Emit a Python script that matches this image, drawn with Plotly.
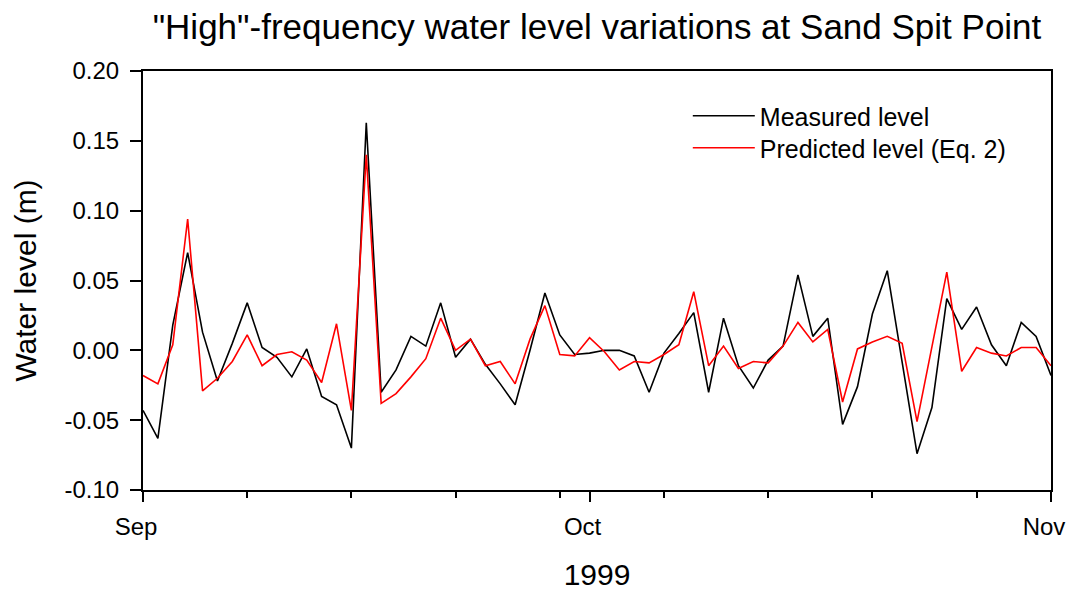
import pandas as pd
import plotly.graph_objects as go

dates = pd.date_range("1999-09-01", "1999-11-01", freq="D")

measured = [
    -0.043, -0.063, 0.018, 0.070, 0.013, -0.022, 0.005, 0.034, 0.002, -0.005,
    -0.019, 0.001, -0.033, -0.039, -0.070, 0.163, -0.030, -0.014, 0.010, 0.003,
    0.034, -0.005, 0.008, -0.010, -0.024, -0.039, 0.000, 0.041, 0.011, -0.003,
    -0.002, 0.000, 0.000, -0.004, -0.030, -0.002, 0.012, 0.027, -0.030, 0.023,
    -0.011, -0.027, -0.007, 0.003, 0.054, 0.010, 0.023, -0.053, -0.026, 0.026,
    0.057, -0.007, -0.074, -0.041, 0.037, 0.015, 0.031, 0.004, -0.011, 0.020,
    0.010, -0.018,
]
predicted = [
    -0.018, -0.024, 0.004, 0.094, -0.029, -0.020, -0.008, 0.011, -0.011, -0.003,
    -0.001, -0.007, -0.023, 0.019, -0.043, 0.140, -0.038, -0.031, -0.019, -0.006,
    0.023, 0.000, 0.008, -0.011, -0.008, -0.024, 0.008, 0.032, -0.003, -0.004,
    0.009, -0.001, -0.014, -0.008, -0.009, -0.003, 0.004, 0.042, -0.011, 0.003,
    -0.013, -0.008, -0.009, 0.003, 0.020, 0.006, 0.015, -0.037, 0.001, 0.006,
    0.010, 0.005, -0.051, 0.002, 0.056, -0.015, 0.002, -0.002, -0.004, 0.002,
    0.002, -0.011,
]

y_ticks = [-0.10, -0.05, 0.00, 0.05, 0.10, 0.15, 0.20]
y_labels = ["-0.10", "-0.05", "0.00", "0.05", "0.10", "0.15", "0.20"]
x_ticks = ["1999-09-01", "1999-10-01", "1999-11-01"]
x_labels = ["Sep", "Oct", "Nov"]

FONT = "Liberation Sans, Arial, sans-serif"

fig = go.Figure()
fig.add_trace(go.Scatter(x=dates, y=measured, mode="lines", name="Measured level",
                         line=dict(color="black", width=1.6), legend="legend"))
fig.add_trace(go.Scatter(x=dates, y=predicted, mode="lines", name="Predicted level (Eq. 2)",
                         line=dict(color="red", width=1.6), legend="legend2"))

legend_style = dict(xanchor="left", yanchor="top", bgcolor="rgba(0,0,0,0)",
                    font=dict(size=25, family=FONT), itemwidth=62)

fig.update_layout(
    width=1068, height=591, autosize=False,
    margin=dict(l=143, r=17, t=71, b=101, autoexpand=False),
    paper_bgcolor="white", plot_bgcolor="white",
    font=dict(family=FONT, color="black"),
    title=dict(text='"High"-frequency water level variations at Sand Spit Point',
               x=0.5, xref="paper", xanchor="center",
               y=1 - 27 / 591, yref="container", yanchor="middle",
               font=dict(size=35, family=FONT, color="black")),
    showlegend=True,
    legend=dict(x=0.60, y=0.9474, **legend_style),
    legend2=dict(x=0.60, y=0.8711, **legend_style),
)

fig.update_xaxes(
    range=["1999-09-01", "1999-11-01"], automargin=False,
    tickmode="array", tickvals=x_ticks, ticktext=x_labels,
    ticks="outside", ticklen=10, tickwidth=1.5, tickcolor="black",
    tickfont=dict(size=24, family=FONT),
    ticklabelstandoff=4, ticklabelshift=-7,
    minor=dict(ticks="outside", ticklen=6, tickwidth=1.5, tickcolor="black",
               tick0="1999-09-01", dtick=7 * 86400000),
    showline=True, linecolor="black", linewidth=2, mirror=True,
    showgrid=False, zeroline=False,
    title=dict(text="1999", font=dict(size=30, family=FONT), standoff=32),
)
fig.update_yaxes(
    range=[-0.10, 0.20], automargin=False,
    tickmode="array", tickvals=y_ticks, ticktext=y_labels,
    ticks="outside", ticklen=11, tickwidth=1.5, tickcolor="black",
    tickfont=dict(size=24, family=FONT),
    ticklabelstandoff=6,
    showline=True, linecolor="black", linewidth=2, mirror=True,
    showgrid=False, zeroline=False,
    title=dict(text="Water level (m)", font=dict(size=30, family=FONT), standoff=19),
)

fig.write_html("out.html", config={"displayModeBar": False},
               post_script="document.body.style.margin='0';")
